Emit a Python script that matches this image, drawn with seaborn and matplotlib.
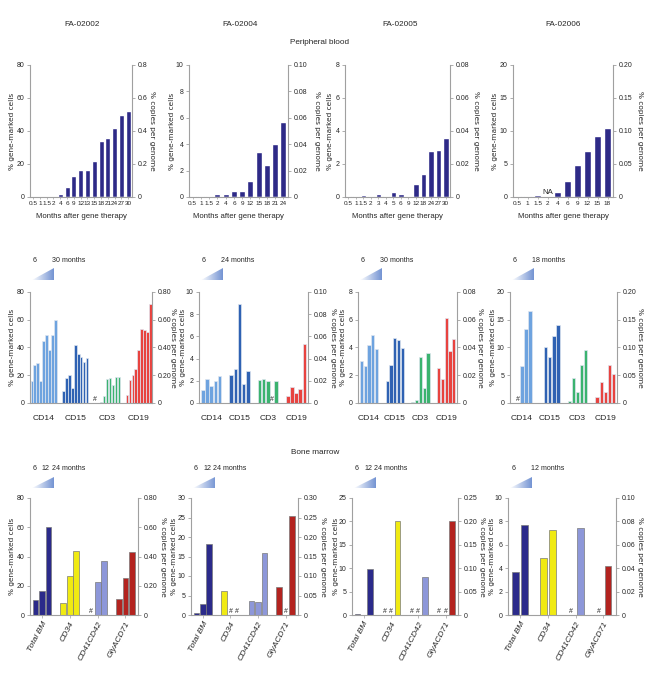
import numpy as np
import pandas as pd
import matplotlib
matplotlib.use("Agg")
import matplotlib.pyplot as plt
import seaborn as sns
from matplotlib import font_manager
from matplotlib.patches import Polygon
from matplotlib.colors import LinearSegmentedColormap

sns.set_theme(style="white")
_names = {f.name for f in font_manager.fontManager.ttflist}
NARROW = "Liberation Sans Narrow" if "Liberation Sans Narrow" in _names else "Liberation Sans"
plt.rcParams["font.family"] = [NARROW, "DejaVu Sans"]
CONDENSED = NARROW != "Liberation Sans"

# ---------------- data ----------------
patients = ["FA-02002", "FA-02004", "FA-02005", "FA-02006"]

# Row 1: peripheral blood over time
pb_months = [
    ["0.5", "1", "1.5", "2", "4", "6", "9", "12", "13", "15", "18", "21", "24", "27", "30"],
    ["0.5", "1", "1.5", "2", "4", "6", "9", "12", "15", "18", "21", "24"],
    ["0.5", "1", "1.5", "2", "3", "4", "5", "6", "9", "12", "18", "24", "27", "30"],
    ["0.5", "1", "1.5", "2", "4", "6", "9", "12", "15", "18"],
]
pb_values = [
    [0, 0, 0, 0, 2, 6, 12.5, 16.5, 16.5, 22, 34, 36, 42, 49.5, 52],
    [0.05, 0.1, 0.1, 0.25, 0.2, 0.45, 0.45, 1.2, 3.4, 2.4, 4.0, 5.7],
    [0.05, 0.05, 0.15, 0.07, 0.2, 0.07, 0.32, 0.2, 0, 0.8, 1.4, 2.8, 2.85, 3.6],
    [0.1, 0.1, 0.3, None, 0.7, 2.4, 4.8, 6.9, 9.3, 10.4],
]
pb_na = [None, None, None, "2"]

# Row 2: PB lineages ('#' = not detected, None = no sample)
lin_cells = ["CD14", "CD15", "CD3", "CD19"]
lin_cd14 = [
    [16, 27.5, 29, 15.5, 45, 49, 38, 49, 60],
    [1.2, 2.2, 1.5, 2.0, 2.45],
    [3.0, 2.7, 4.2, 4.9, 3.9],
    [None, "#", 6.6, 13.3, 16.5],
]
lin_cd15 = [
    [9, 18, 20, 11, 41.5, 35.5, 33.5, 29.5, 32.5],
    [2.5, 3.1, 8.9, 1.7, 2.85],
    [1.55, 2.75, 4.7, 4.55, 3.95],
    [None, 10, 8.2, 12.1, 14.1],
]
lin_cd3 = [
    ["#", None, 1, 5, 17, 18, 13, 19, 18.5],
    [2.1, 2.2, 2.0, "#", 2.0],
    [0.05, 0.25, 3.35, 1.1, 3.6],
    [0.3, 4.5, 1.9, 6.9, 9.6],
]
lin_cd19 = [
    [6, 16.5, 20.5, 24.5, 38, 53, 52.5, 51, 71],
    [0.6, 1.45, 0.9, 1.25, 5.35],
    [2.55, 1.7, 6.1, 3.75, 4.6],
    [1.0, 3.7, 2.0, 6.9, 5.2],
]
lin_legend = [["6", "30 months"], ["6", "24 months"], ["6", "30 months"], ["6", "18 months"]]

# Row 3: bone marrow
bm_cells = ["Total BM", "CD34", "CD41CD42", "GlyACD71"]
bm_total = [[10, 16.5, 60.5], [0.4, 2.7, 18.3], [0.2, 0.1, 9.9], [3.7, 7.7]]
bm_cd34 = [[8.5, 26.5, 43.5], [6.1, "#", "#"], ["#", "#", 20], [4.85, 7.3]]
bm_cd41 = [["#", 22.5, 37], [3.5, 3.3, 15.8], ["#", "#", 8.2], ["#", 7.4]]
bm_glya = [[11, 25, 43], [7.1, "#", 25.5], ["#", "#", 20.1], ["#", 4.2]]
bm_legend = [["6", "12", "24 months"], ["6", "12", "24 months"], ["6", "12", "24 months"], ["6", "12 months"]]

# axis scales (left max, step, right tick labels)
r1_ymax = [80, 10, 8, 20]
r1_step = [20, 2, 2, 5]
r1_rlab = [["0", "0.2", "0.4", "0.6", "0.8"],
           ["0", "0.02", "0.04", "0.06", "0.08", "0.10"],
           ["0", "0.02", "0.04", "0.06", "0.08"],
           ["0", "0.05", "0.10", "0.15", "0.20"]]
r2_ymax = [80, 10, 8, 20]
r2_step = [20, 2, 2, 5]
r2_rlab = [["0", "0.20", "0.40", "0.60", "0.80"],
           ["0", "0.02", "0.04", "0.06", "0.08", "0.10"],
           ["0", "0.02", "0.04", "0.06", "0.08"],
           ["0", "0.05", "0.10", "0.15", "0.20"]]
r3_ymax = [80, 30, 25, 10]
r3_step = [20, 5, 5, 2]
r3_rlab = [["0", "0.20", "0.40", "0.60", "0.80"],
           ["0", "0.05", "0.10", "0.15", "0.20", "0.25", "0.30"],
           ["0", "0.05", "0.10", "0.15", "0.20", "0.25"],
           ["0", "0.02", "0.04", "0.06", "0.08", "0.10"]]

# ---------------- styling ----------------
NAVY = "#2e2a87"
LIN_COLORS = ["#6ea3df", "#2f62b3", "#3bb36f", "#e8433f"]
BM_COLORS = ["#2b2a8a", "#f0ea12", "#8d97d9", "#b3231f"]
GRAY = "#a0a0a0"
LABEL_FONT = ["DejaVu Sans"]
TICK_FS = 5.8 if CONDENSED else 5.0
SMALL_FS = 5.5 if CONDENSED else 4.6
TEXT_FS = 6.5 if CONDENSED else 5.6

W, H = 650, 686
fig = plt.figure(figsize=(W / 100, H / 100), dpi=100)


def rect(l, t, r, b):
    return [l / W, 1 - b / H, (r - l) / W, (b - t) / H]


def style_axes(ax, box, ymax, step, rlabels, lx, rx):
    l, t, r, b = box
    yt = np.arange(0, ymax + step * 0.01, step)
    ax.set_ylim(0, ymax)
    ax.set_yticks(yt)
    ax.set_yticklabels([f"{v:g}" for v in yt])
    ax.spines["top"].set_visible(False)
    ax.spines["right"].set_visible(False)
    for s in ["left", "bottom"]:
        ax.spines[s].set_color(GRAY)
        ax.spines[s].set_linewidth(0.8)
    ax.tick_params(axis="y", direction="out", left=True, length=2.5, width=0.6,
                   color=GRAY, labelsize=TICK_FS, pad=1.5)
    ax.set_ylabel("% gene-marked cells", family=LABEL_FONT, fontsize=5.3,
                  ha="center", va="center", rotation_mode="anchor")
    ax.yaxis.set_label_coords((lx - l) / (r - l), 0.5)
    ax2 = ax.twinx()
    ax2.set_ylim(0, ymax / 100)
    ax2.set_yticks(yt / 100)
    ax2.set_yticklabels(rlabels)
    for s in ["top", "left", "bottom"]:
        ax2.spines[s].set_visible(False)
    ax2.spines["right"].set_color(GRAY)
    ax2.spines["right"].set_linewidth(0.8)
    ax2.tick_params(axis="y", direction="out", right=True, length=2.5, width=0.6,
                    color=GRAY, labelsize=TICK_FS, pad=1.5)
    ax2.set_ylabel("% copies per genome", family=LABEL_FONT, fontsize=5.3,
                   rotation=270, ha="center", va="center", rotation_mode="anchor")
    ax2.yaxis.set_label_coords((rx - l) / (r - l), 0.5)
    ax2.grid(False)
    ax.grid(False)
    return ax2


def tri_legend(l, t, w, h, texts, xs):
    tax = fig.add_axes(rect(l, t, l + w, t + h))
    grad = np.linspace(0, 1, 256).reshape(1, -1)
    cmap = LinearSegmentedColormap.from_list("g", ["#ffffff", "#7393d3"])
    im = tax.imshow(grad, extent=[0, 1, 0, 1], aspect="auto", cmap=cmap, origin="lower")
    poly = Polygon([(0, 0), (1, 0), (1, 1)], closed=True, transform=tax.transData)
    im.set_clip_path(poly)
    tax.set_xlim(0, 1)
    tax.set_ylim(0, 1)
    tax.axis("off")
    for x, s in zip(xs, texts):
        fig.text(x / W, 1 - (t - 8) / H, s, fontsize=TEXT_FS - 0.5, ha="left", va="center")


def grouped(ax, cells, groups, colors, width, gap, xlim, edge):
    rows = []
    nd = []
    n = max(len(g) for g in groups)
    slots = [f"t{j}" for j in range(n)]
    for ci, (c, vals) in enumerate(zip(cells, groups)):
        for j, v in enumerate(vals):
            if v is None:
                continue
            if v == "#":
                nd.append((ci, j))
                continue
            rows.append({"cell": c, "slot": slots[j], "val": float(v)})
    df = pd.DataFrame(rows)
    sns.barplot(data=df, x="cell", y="val", hue="slot", order=cells, hue_order=slots,
                width=width, gap=gap, dodge=True, legend=False, ax=ax,
                palette=["#777777"] * n, edgecolor=edge, linewidth=0.5, saturation=1)
    for p in ax.patches:
        ci = int(round(p.get_x() + p.get_width() / 2))
        p.set_facecolor(colors[ci])
    for ci, j in nd:
        x = ci - width / 2 + (j + 0.5) * width / n
        ax.text(x, 0, "#", fontsize=5, ha="center", va="bottom")
    ax.set_xlim(*xlim)
    ax.set_xlabel("")
    ax.set_ylabel("")


# ---------------- row 1 ----------------
r1_rects = [(30, 65, 132, 197), (189, 65, 288, 197), (345, 65, 450, 197), (513, 65, 613, 197)]
r1_lx = [12, 172, 330, 495]
r1_rx = [152, 317, 476, 640]
title_x = [82, 240, 400, 563]
for i in range(4):
    ax = fig.add_axes(rect(*r1_rects[i]))
    months = pb_months[i]
    vals = [np.nan if v is None else v for v in pb_values[i]]
    sns.barplot(x=months, y=vals, order=months, color=NAVY, saturation=1, width=0.72, ax=ax)
    ax.set_xlim(-0.45, len(months) - 0.45)
    ax.tick_params(axis="x", bottom=True, length=1.5, width=0.5, color=GRAY,
                   labelsize=SMALL_FS, pad=1.5)
    style_axes(ax, r1_rects[i], r1_ymax[i], r1_step[i], r1_rlab[i], r1_lx[i], r1_rx[i])
    ax.set_xlabel("Months after gene therapy", fontsize=TEXT_FS, labelpad=5)
    if pb_na[i] is not None:
        ax.text(months.index(pb_na[i]), r1_ymax[i] * 0.01, "NA", fontsize=TEXT_FS,
                ha="center", va="bottom")
    fig.text(title_x[i] / W, 1 - 25 / H, patients[i], fontsize=TEXT_FS + 0.3,
             ha="center", va="center")

fig.text(320 / W, 1 - 42 / H, "Peripheral blood", fontsize=TEXT_FS + 0.3, ha="center", va="center")

# ---------------- row 2 ----------------
r2_rects = [(30, 292, 152, 403), (199, 292, 308, 403), (358, 292, 457, 403), (510, 292, 617, 403)]
r2_lx = [12, 183, 343, 493]
r2_rx = [173, 333, 480, 640]
r2_width = [0.84, 0.73, 0.74, 0.73]
for i in range(4):
    ax = fig.add_axes(rect(*r2_rects[i]))
    groups = [lin_cd14[i], lin_cd15[i], lin_cd3[i], lin_cd19[i]]
    grouped(ax, lin_cells, groups, LIN_COLORS, r2_width[i], 0.15, (-0.43, 3.42), "#dfe6f0")
    ax.tick_params(axis="x", bottom=False, labelsize=TEXT_FS + 0.5, pad=3)
    style_axes(ax, r2_rects[i], r2_ymax[i], r2_step[i], r2_rlab[i], r2_lx[i], r2_rx[i])
    l = r2_rects[i][0] + 2
    tri_legend(l, 268, 22, 12, lin_legend[i], [l + 1, l + 20])

# ---------------- row 3 ----------------
r3_rects = [(30, 498, 138, 615), (191, 498, 298, 615), (352, 498, 458, 615), (508, 498, 616, 615)]
r3_lx = [12, 174, 336, 492]
r3_rx = [163, 323, 482, 640]
for i in range(4):
    ax = fig.add_axes(rect(*r3_rects[i]))
    groups = [bm_total[i], bm_cd34[i], bm_cd41[i], bm_glya[i]]
    n = len(groups[0])
    w = 0.7 if n == 3 else 0.66
    g = 0.1 if n == 3 else 0.28
    grouped(ax, bm_cells, groups, BM_COLORS, w, g, (-0.43, 3.45), "#7a7a7a")
    ax.tick_params(axis="x", bottom=True, length=2, width=0.5, color=GRAY,
                   labelsize=TEXT_FS + 0.5, pad=2)
    for lab in ax.get_xticklabels():
        lab.set_rotation(62)
        lab.set_ha("right")
        lab.set_rotation_mode("anchor")
        lab.set_style("italic")
    style_axes(ax, r3_rects[i], r3_ymax[i], r3_step[i], r3_rlab[i], r3_lx[i], r3_rx[i])
    l = r3_rects[i][0] + 2
    if n == 3:
        xs = [l + 1, l + 10, l + 20]
    else:
        xs = [l + 2, l + 21]
    tri_legend(l, 477, 22, 11, bm_legend[i], xs)

fig.text(315 / W, 1 - 453 / H, "Bone marrow", fontsize=TEXT_FS + 0.3, ha="center", va="center")

fig.savefig("out.png", dpi=100, facecolor="white")
